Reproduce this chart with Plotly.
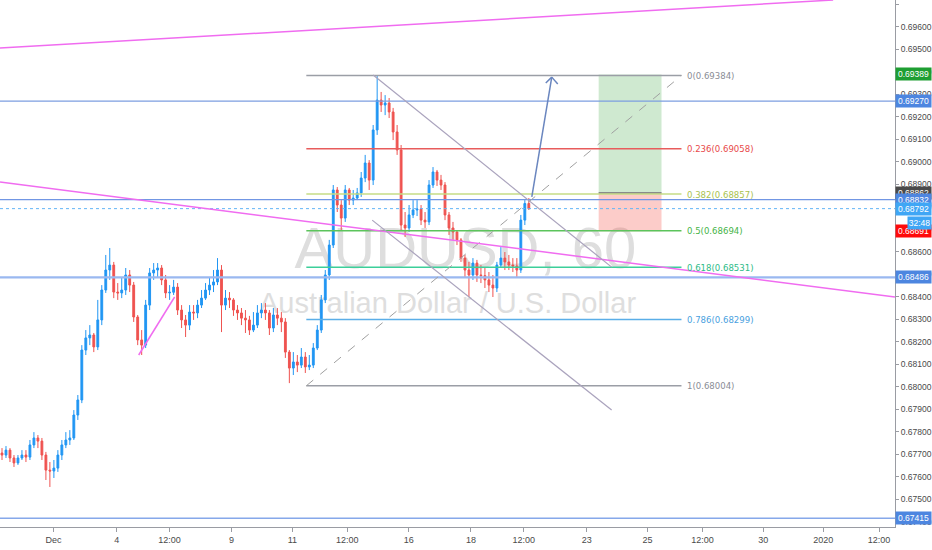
import plotly.graph_objects as go

# ---------------- data ----------------
close = [
    0.67696, 0.67718, 0.67683, 0.67661, 0.67683, 0.67696, 0.67687, 0.67741, 0.67772, 0.67758,
    0.67696, 0.67629, 0.67625, 0.67638, 0.67696, 0.67741, 0.67763, 0.67772, 0.67874, 0.67941,
    0.68163, 0.68217, 0.68230, 0.68177, 0.68297, 0.68430, 0.68519, 0.68541, 0.68421, 0.68417,
    0.68430, 0.68497, 0.68452, 0.68310, 0.68208, 0.68185, 0.68363, 0.68506, 0.68519, 0.68528,
    0.68475, 0.68417, 0.68420, 0.68443, 0.68341, 0.68297, 0.68274, 0.68332, 0.68328, 0.68363,
    0.68394, 0.68430, 0.68452, 0.68466, 0.68519, 0.68363, 0.68394, 0.68386, 0.68341, 0.68328,
    0.68305, 0.68297, 0.68252, 0.68274, 0.68328, 0.68341, 0.68328, 0.68261, 0.68319, 0.68305,
    0.68288, 0.68154, 0.68083, 0.68110, 0.68096, 0.68132, 0.68088, 0.68096, 0.68172, 0.68252,
    0.68386, 0.68497, 0.68630, 0.68875, 0.68808, 0.68750, 0.68875, 0.68830, 0.68839, 0.68862,
    0.68928, 0.68995, 0.68919, 0.69142, 0.69275, 0.69253, 0.69262, 0.69222, 0.69133, 0.69053,
    0.68719, 0.68706, 0.68764, 0.68786, 0.68790, 0.68741, 0.68733, 0.68897, 0.68955, 0.68919,
    0.68897, 0.68764, 0.68706, 0.68688, 0.68653, 0.68572, 0.68519, 0.68497, 0.68550, 0.68497,
    0.68494, 0.68475, 0.68452, 0.68439, 0.68541, 0.68572, 0.68555, 0.68541, 0.68537, 0.68519,
    0.68741, 0.68815, 0.68792]

high = [
    0.67727, 0.67736, 0.67727, 0.67696, 0.67696, 0.67718, 0.67718, 0.67763, 0.67798, 0.67785,
    0.67772, 0.67710, 0.67665, 0.67674, 0.67718, 0.67763, 0.67798, 0.67807, 0.67896, 0.67963,
    0.68185, 0.68252, 0.68274, 0.68239, 0.68386, 0.68452, 0.68586, 0.68617, 0.68555, 0.68461,
    0.68484, 0.68528, 0.68519, 0.68466, 0.68319, 0.68252, 0.68386, 0.68528, 0.68550, 0.68550,
    0.68541, 0.68497, 0.68452, 0.68475, 0.68461, 0.68363, 0.68319, 0.68363, 0.68363, 0.68386,
    0.68430, 0.68461, 0.68484, 0.68519, 0.68572, 0.68541, 0.68430, 0.68421, 0.68394, 0.68363,
    0.68350, 0.68341, 0.68315, 0.68332, 0.68363, 0.68372, 0.68372, 0.68341, 0.68350, 0.68350,
    0.68332, 0.68305, 0.68163, 0.68154, 0.68141, 0.68172, 0.68154, 0.68141, 0.68194, 0.68274,
    0.68408, 0.68519, 0.68653, 0.68897, 0.68888, 0.68830, 0.68897, 0.68884, 0.68875, 0.68884,
    0.68955, 0.69031, 0.69008, 0.69164, 0.69384, 0.69311, 0.69297, 0.69284, 0.69240, 0.69164,
    0.69075, 0.68777, 0.68808, 0.68830, 0.68830, 0.68808, 0.68777, 0.68919, 0.68977, 0.68964,
    0.68942, 0.68910, 0.68777, 0.68733, 0.68697, 0.68661, 0.68586, 0.68555, 0.68572, 0.68564,
    0.68541, 0.68528, 0.68510, 0.68497, 0.68555, 0.68621, 0.68599, 0.68586, 0.68572, 0.68572,
    0.68764, 0.68830, 0.68839]

low = [
    0.67674, 0.67683, 0.67665, 0.67643, 0.67652, 0.67674, 0.67665, 0.67674, 0.67727, 0.67727,
    0.67674, 0.67585, 0.67554, 0.67594, 0.67621, 0.67674, 0.67727, 0.67741, 0.67763, 0.67852,
    0.67927, 0.68141, 0.68185, 0.68154, 0.68163, 0.68274, 0.68417, 0.68475, 0.68394, 0.68386,
    0.68394, 0.68408, 0.68421, 0.68288, 0.68185, 0.68141, 0.68172, 0.68341, 0.68475, 0.68484,
    0.68452, 0.68394, 0.68386, 0.68408, 0.68319, 0.68261, 0.68221, 0.68252, 0.68297, 0.68305,
    0.68350, 0.68386, 0.68408, 0.68421, 0.68452, 0.68243, 0.68341, 0.68350, 0.68315, 0.68297,
    0.68274, 0.68239, 0.68230, 0.68243, 0.68261, 0.68305, 0.68297, 0.68230, 0.68243, 0.68274,
    0.68243, 0.68128, 0.68016, 0.68052, 0.68065, 0.68083, 0.68061, 0.68074, 0.68083, 0.68163,
    0.68239, 0.68372, 0.68475, 0.68617, 0.68777, 0.68697, 0.68733, 0.68808, 0.68808, 0.68830,
    0.68844, 0.68910, 0.68875, 0.68897, 0.69120, 0.69222, 0.69208, 0.69195, 0.69097, 0.69031,
    0.68697, 0.68666, 0.68688, 0.68750, 0.68759, 0.68719, 0.68706, 0.68719, 0.68884, 0.68893,
    0.68875, 0.68741, 0.68675, 0.68653, 0.68630, 0.68555, 0.68484, 0.68399, 0.68475, 0.68466,
    0.68461, 0.68439, 0.68421, 0.68399, 0.68421, 0.68528, 0.68519, 0.68519, 0.68510, 0.68488,
    0.68506, 0.68719, 0.68786]

first_open = 0.67705
open_ = [first_open] + close[:-1]
bars = list(range(len(close)))

tick_labels = ["Dec", "4", "12:00", "9", "11", "12:00", "16", "18", "12:00",
               "23", "25", "12:00", "30", "2020", "12:00"]
tick_bars = [12.9, 28.75, 42, 57.5, 72.75, 86.5, 101.9, 117.5, 130.75,
             146.5, 161.75, 175.5, 190.75, 205.75, 219.75]

# fibonacci retracement
fib_ratios = ["0", "0.236", "0.382", "0.5", "0.618", "0.786", "1"]
fib_prices = [0.69384, 0.69058, 0.68857, 0.68694, 0.68531, 0.68299, 0.68004]
fib_colors = ["#9b9ea6", "#e85c5c", "#c6dc86", "#5cc45c", "#3ccf9a", "#5aaee8", "#9b9ea6"]
fib_text_colors = ["#8a8d96", "#e84a4a", "#a8c24e", "#46b446", "#2cbc88", "#4a9fe0", "#8a8d96"]
fib_start_bar, fib_end_bar = 76.25, 170.25

# horizontal levels drawn across the chart
level_prices = [0.69270, 0.68832, 0.68486, 0.67415]
level_colors = ["#7d9ee0", "#7196e4", "#9ab8f0", "#86a8ea"]
level_widths = [1.2, 1.2, 2.2, 1.5]
last_price = 0.68792

# long position tool
pos_target, pos_entry, pos_stop = 0.69389, 0.68862, 0.68691
pos_start_bar, pos_end_bar = 149.5, 165.25

# price scale labels
axis_labels = [0.69389, 0.69270, 0.68862, 0.68832, 0.68792, 0.68691, 0.68486, 0.67415]
axis_label_colors = ["#1e9e32", "#4d86e0", "#4a4a4a", "#4d86e0", "#3fa6f5", "#ff0a0a", "#4d86e0", "#4d86e0"]
countdown = "32:48"

# drawn trend lines: (bar0, price0, bar1, price1)
magenta_lines = [(-0.5, 0.69506, 208.25, 0.69720),
                 (-0.5, 0.68910, 223.75, 0.68399),
                 (34.25, 0.68141, 43.25, 0.68399)]
channel_lines = [(93.0, 0.69386, 152.75, 0.68532),
                 (92.75, 0.68741, 152.75, 0.67896)]
arrow_line = (132.75, 0.68844, 137.75, 0.69377)
arrow_head = [(136.25, 0.69351), (139.25, 0.69346)]

# ---------------- figure ----------------
UP = "#2196F3"
DOWN = "#EF5350"
FONT = "DejaVu Sans Condensed, Liberation Sans Narrow, Liberation Sans, Arial"
AXFONT = "Liberation Sans, Arial"

fig = go.Figure()
fig.add_trace(go.Candlestick(
    x=bars, open=open_, high=high, low=low, close=close,
    increasing=dict(line=dict(color=UP, width=1), fillcolor=UP),
    decreasing=dict(line=dict(color=DOWN, width=1), fillcolor=DOWN),
    whiskerwidth=0, hoverinfo="skip", showlegend=False,
))

shapes = []

# watermark (below traces)
shapes.append(dict(type="rect", xref="paper", yref="paper", x0=0.30, x1=0.74, y0=0.49, y1=0.59,
                   line=dict(width=0), fillcolor="rgba(0,0,0,0)", layer="below",
                   label=dict(text="AUDUSD, 60", textposition="middle center",
                              font=dict(size=58, color="#dedede", family="Liberation Sans, Arial"))))
shapes.append(dict(type="rect", xref="paper", yref="paper", x0=0.27, x1=0.73, y0=0.40, y1=0.46,
                   line=dict(width=0), fillcolor="rgba(0,0,0,0)", layer="below",
                   label=dict(text="Australian Dollar / U.S. Dollar", textposition="middle center",
                              font=dict(size=29, color="#dedede", family="Liberation Sans, Arial"))))

# position tool
shapes.append(dict(type="rect", xref="x", yref="y", x0=pos_start_bar, x1=pos_end_bar,
                   y0=pos_entry, y1=pos_target, line=dict(width=0),
                   fillcolor="rgba(76,175,80,0.27)", layer="below"))
shapes.append(dict(type="rect", xref="x", yref="y", x0=pos_start_bar, x1=pos_end_bar,
                   y0=pos_stop, y1=pos_entry, line=dict(width=0),
                   fillcolor="rgba(244,67,54,0.27)", layer="below"))
shapes.append(dict(type="line", xref="x", yref="y", x0=pos_start_bar, x1=pos_end_bar,
                   y0=pos_entry, y1=pos_entry, line=dict(color="#8a8a8a", width=2)))

# full-width levels
for p, c, w in zip(level_prices, level_colors, level_widths):
    shapes.append(dict(type="line", xref="paper", yref="y", x0=0, x1=1, y0=p, y1=p,
                       line=dict(color=c, width=w)))
shapes.append(dict(type="line", xref="paper", yref="y", x0=0, x1=1, y0=last_price, y1=last_price,
                   line=dict(color="#64b5f6", width=1, dash="dot")))

# fib levels
for p, c in zip(fib_prices, fib_colors):
    shapes.append(dict(type="line", xref="x", yref="y", x0=fib_start_bar, x1=fib_end_bar,
                       y0=p, y1=p, line=dict(color=c, width=1.5)))
shapes.append(dict(type="line", xref="x", yref="y", x0=fib_start_bar, x1=fib_end_bar,
                   y0=fib_prices[-1], y1=fib_prices[0],
                   line=dict(color="#a0a0a0", width=1, dash="dash")))

# trend lines
for b0, p0, b1, p1 in magenta_lines:
    shapes.append(dict(type="line", xref="x", yref="y", x0=b0, x1=b1, y0=p0, y1=p1,
                       line=dict(color="#f06cf0", width=1.5)))
for b0, p0, b1, p1 in channel_lines:
    shapes.append(dict(type="line", xref="x", yref="y", x0=b0, x1=b1, y0=p0, y1=p1,
                       line=dict(color="#aaa3bd", width=1.2)))
b0, p0, b1, p1 = arrow_line
shapes.append(dict(type="line", xref="x", yref="y", x0=b0, x1=b1, y0=p0, y1=p1,
                   line=dict(color="#6a86bf", width=1.5)))
for hb, hp in arrow_head:
    shapes.append(dict(type="line", xref="x", yref="y", x0=b1, x1=hb, y0=p1, y1=hp,
                       line=dict(color="#6a86bf", width=1.5)))

annotations = []
for r, p, c in zip(fib_ratios, fib_prices, fib_text_colors):
    annotations.append(dict(x=fib_end_bar + 0.8, y=p, xref="x", yref="y", xanchor="left",
                            yanchor="middle", text=f"{r}({p:.5f})", showarrow=False,
                            font=dict(size=9.5, color=c, family=FONT)))

for p, c in zip(axis_labels, axis_label_colors):
    annotations.append(dict(x=1, y=p, xref="paper", yref="y", xanchor="left", yanchor="middle",
                            text=f"{p:.5f}", showarrow=False, bgcolor=c, width=33, height=10,
                            borderpad=1, align="center",
                            font=dict(size=8.5, color="white", family=AXFONT)))
annotations.append(dict(x=1, y=last_price, xref="paper", yref="y", xanchor="left", yanchor="middle",
                        xshift=12, yshift=-14, text=countdown, showarrow=False, bgcolor="#3fa6f5",
                        width=21, height=10, borderpad=1, align="center",
                        font=dict(size=8.5, color="white", family=AXFONT)))

fig.update_layout(
    width=932, height=550,
    margin=dict(l=0, r=35, t=0, b=23, pad=0),
    paper_bgcolor="white", plot_bgcolor="white",
    showlegend=False, hovermode=False,
    shapes=shapes, annotations=annotations,
    boxgap=0.35,
    xaxis=dict(range=[-0.5, 223.75], tickvals=tick_bars, ticktext=tick_labels,
               showgrid=False, zeroline=False, showline=True, linecolor="#9a9ca3", linewidth=1,
               ticks="outside", ticklen=4, tickcolor="#9a9ca3",
               tickfont=dict(size=9, color="#4a4a4a", family=AXFONT),
               rangeslider=dict(visible=False), fixedrange=True),
    yaxis=dict(range=[0.67376, 0.69720], side="right", tick0=0.675, dtick=0.001,
               tickformat=".5f", showgrid=False, zeroline=False, showline=True,
               linecolor="#9a9ca3", linewidth=1, ticks="outside", ticklen=3,
               tickcolor="#9a9ca3", tickfont=dict(size=8.5, color="#4a4a4a", family=AXFONT),
               fixedrange=True),
)

fig.write_html("out.html", config={"displayModeBar": False},
               post_script="document.body.style.margin='0px';")
